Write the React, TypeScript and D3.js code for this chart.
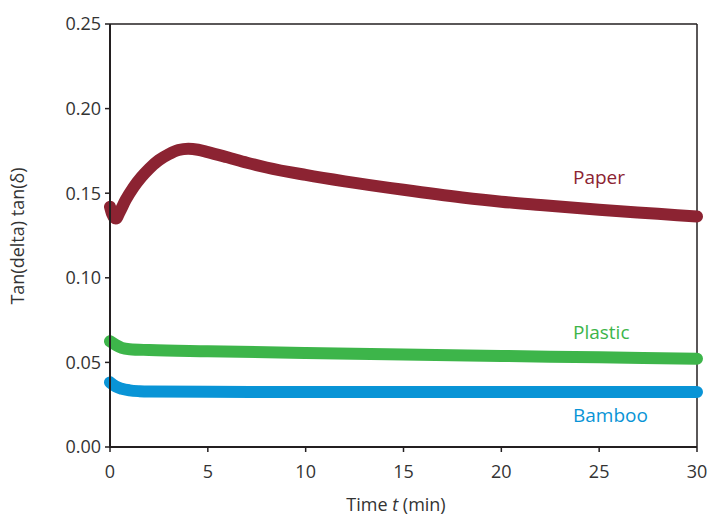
import React from "react";
import * as d3 from "d3";

const paperT = [0, 0.1, 0.3, 0.5, 0.8, 1.2, 1.6, 2, 2.5, 3, 3.5, 4, 4.5, 5, 6, 7, 8, 10, 12, 15, 18, 20, 22, 25, 28, 30];
const paperV = [0.142, 0.138, 0.135, 0.139, 0.146, 0.1535, 0.1595, 0.1645, 0.1695, 0.173, 0.1755, 0.1763, 0.1757, 0.1743, 0.1712, 0.168, 0.1652, 0.1608, 0.157, 0.152, 0.1475, 0.145, 0.143, 0.1402, 0.1378, 0.1362];
const plasticT = [0, 0.3, 0.6, 1, 2, 5, 10, 15, 20, 25, 30];
const plasticV = [0.0625, 0.0603, 0.0586, 0.0578, 0.0573, 0.0566, 0.0556, 0.0546, 0.0538, 0.053, 0.0522];
const bambooT = [0, 0.3, 0.6, 1, 1.5, 2, 5, 10, 20, 30];
const bambooV = [0.0382, 0.0357, 0.0344, 0.0335, 0.033, 0.0328, 0.0326, 0.0325, 0.0325, 0.0325];

const xTicks = [0, 5, 10, 15, 20, 25, 30];
const yTicks = [0, 0.05, 0.1, 0.15, 0.2, 0.25];

const seriesNames = ["Paper", "Plastic", "Bamboo"];
const seriesColors = ["#8c2332", "#3db54a", "#0994d6"];

export default function App() {
  const left = 110, right = 697, top = 24, bottom = 447;
  const x = d3.scaleLinear().domain([0, 30]).range([left, right]);
  const y = d3.scaleLinear().domain([0, 0.25]).range([bottom, top]);
  const line = d3
    .line<[number, number]>()
    .x((d) => x(d[0]))
    .y((d) => y(d[1]))
    .curve(d3.curveMonotoneX);

  const series = [
    { name: seriesNames[0], color: seriesColors[0], pts: paperT.map((t, i) => [t, paperV[i]] as [number, number]), lx: 573, ly: 177 },
    { name: seriesNames[1], color: seriesColors[1], pts: plasticT.map((t, i) => [t, plasticV[i]] as [number, number]), lx: 573, ly: 332 },
    { name: seriesNames[2], color: seriesColors[2], pts: bambooT.map((t, i) => [t, bambooV[i]] as [number, number]), lx: 573, ly: 415 },
  ];

  const axisColor = "#231f20";
  const font = "'Open Sans', sans-serif";
  const fmt = d3.format(".2f");

  return (
    <svg width={710} height={521} style={{ position: "absolute", left: 0, top: 0, background: "#fff" }}>
      <line x1={left} y1={top} x2={right} y2={top} stroke={axisColor} strokeWidth={1.5} />
      <line x1={right} y1={top} x2={right} y2={bottom} stroke={axisColor} strokeWidth={1.5} />
      {series.map((s) => (
        <path key={s.name} d={line(s.pts) || ""} fill="none" stroke={s.color} strokeWidth={12} strokeLinecap="round" strokeLinejoin="round" />
      ))}
      <line x1={left} y1={top} x2={left} y2={bottom + 1} stroke={axisColor} strokeWidth={2} />
      <line x1={left - 1} y1={bottom} x2={right} y2={bottom} stroke={axisColor} strokeWidth={2} />
      {yTicks.map((t) => (
        <g key={"y" + t}>
          <line x1={left - 5} x2={left} y1={y(t)} y2={y(t)} stroke={axisColor} strokeWidth={1.5} />
          <text x={left - 9} y={y(t)} dy="0.36em" textAnchor="end" fontSize={18} fontFamily={font} fill="#333">
            {fmt(t)}
          </text>
        </g>
      ))}
      {xTicks.map((t) => (
        <g key={"x" + t}>
          <line x1={x(t)} x2={x(t)} y1={bottom} y2={bottom + 5} stroke={axisColor} strokeWidth={1.5} />
          <text x={x(t)} y={478} textAnchor="middle" fontSize={18} fontFamily={font} fill="#333">
            {t}
          </text>
        </g>
      ))}
      <text x={396} y={511} textAnchor="middle" fontSize={18} fontFamily={font} fill="#333">
        Time <tspan fontStyle="italic">t</tspan> (min)
      </text>
      <text transform="translate(24,236) rotate(-90)" textAnchor="middle" fontSize={18} fontFamily={font} fill="#333">
        Tan(delta) tan(δ)
      </text>
      {series.map((s) => (
        <text key={"l" + s.name} x={s.lx} y={s.ly} dy="0.36em" fontSize={19} fontFamily={font} fill={s.color}>
          {s.name}
        </text>
      ))}
    </svg>
  );
}
